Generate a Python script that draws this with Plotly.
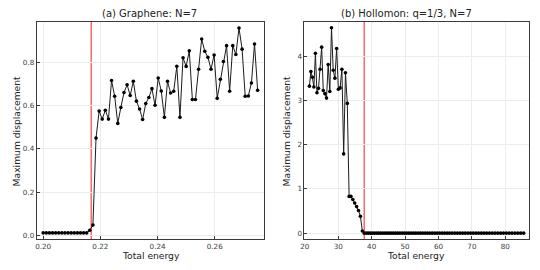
import plotly.graph_objects as go

# ---------------- data ----------------
graphene_energy = [
    0.20000, 0.20109, 0.20217, 0.20326, 0.20435, 0.20543, 0.20652, 0.20761, 0.20870, 0.20978,
    0.21087, 0.21196, 0.21304, 0.21413, 0.21522, 0.21630, 0.21739, 0.21848, 0.21957, 0.22065,
    0.22174, 0.22283, 0.22391, 0.22500, 0.22609, 0.22717, 0.22826, 0.22935, 0.23043, 0.23152,
    0.23261, 0.23370, 0.23478, 0.23587, 0.23696, 0.23804, 0.23913, 0.24022, 0.24130, 0.24239,
    0.24348, 0.24457, 0.24565, 0.24674, 0.24783, 0.24891, 0.25000, 0.25109, 0.25217, 0.25326,
    0.25435, 0.25543, 0.25652, 0.25761, 0.25870, 0.25978, 0.26087, 0.26196, 0.26304, 0.26413,
    0.26522, 0.26630, 0.26739, 0.26848, 0.26957, 0.27065, 0.27174, 0.27283, 0.27391, 0.27500,
]
graphene_disp = [
    0.011, 0.011, 0.011, 0.011, 0.011, 0.011, 0.011, 0.011, 0.011, 0.011,
    0.011, 0.011, 0.011, 0.011, 0.011, 0.023, 0.047, 0.450, 0.575, 0.538,
    0.579, 0.538, 0.717, 0.644, 0.518, 0.592, 0.661, 0.697, 0.647, 0.713,
    0.621, 0.585, 0.536, 0.610, 0.638, 0.679, 0.602, 0.728, 0.668, 0.546,
    0.713, 0.659, 0.667, 0.783, 0.546, 0.822, 0.782, 0.854, 0.629, 0.629,
    0.769, 0.909, 0.852, 0.824, 0.769, 0.835, 0.634, 0.722, 0.805, 0.878,
    0.667, 0.878, 0.837, 0.960, 0.862, 0.644, 0.645, 0.705, 0.886, 0.671,
]
graphene_threshold = 0.2168

hollomon_energy = [
    21.372, 21.815, 22.262, 22.715, 23.171, 23.632, 24.098, 24.568, 25.043, 25.522,
    26.006, 26.495, 26.987, 27.485, 27.986, 28.493, 29.005, 29.520, 30.040, 30.564,
    31.094, 31.628, 32.166, 32.709, 33.256, 33.808, 34.365, 34.926, 35.492, 36.061,
    36.636, 37.216, 37.799, 38.388, 38.980, 39.578, 40.180, 40.786, 41.398, 42.012,
    42.633, 43.258, 43.887, 44.521, 45.158, 45.802, 46.450, 47.101, 47.758, 48.418,
    49.084, 49.755, 50.428, 51.108, 51.791, 52.480, 53.173, 53.870, 54.572, 55.278,
    55.989, 56.705, 57.424, 58.150, 58.878, 59.612, 60.351, 61.093, 61.841, 62.592,
    63.349, 64.110, 64.875, 65.646, 66.419, 67.199, 67.983, 68.771, 69.564, 70.360,
    71.163, 71.970, 72.780, 73.596, 74.415, 75.240, 76.070, 76.902, 77.741, 78.583,
    79.431, 80.283, 81.139, 82.000, 82.865, 83.735, 84.610, 85.488,
]
hollomon_disp = [
    3.32, 3.65, 3.52, 3.30, 4.06, 3.17, 3.27, 3.70, 4.20, 3.22,
    3.15, 3.05, 3.81, 3.20, 4.64, 3.68, 3.50, 4.17, 3.25, 3.28,
    3.70, 1.79, 3.62, 2.93, 0.83, 0.83, 0.76, 0.68, 0.60, 0.51,
    0.38, 0.05, 0.00,
] + [0.0] * 65
hollomon_threshold = 37.78

graphene_xticks = [0.20, 0.22, 0.24, 0.26]
graphene_yticks = [0.0, 0.2, 0.4, 0.6, 0.8]
hollomon_xticks = [20, 30, 40, 50, 60, 70, 80]
hollomon_yticks = [0, 1, 2, 3, 4]

title_a = "(a) Graphene: N=7"
title_b = "(b) Hollomon: q=1/3, N=7"
xlabel = "Total energy"
ylabel = "Maximum displacement"

# ---------------- figure ----------------
FONT = "DejaVu Sans"
LINE_COL = "#1c1c1c"
RED = "#f46a6a"

fig = go.Figure()
fig.add_trace(go.Scatter(
    x=graphene_energy, y=graphene_disp, mode="lines+markers",
    line=dict(color=LINE_COL, width=1), marker=dict(size=3.6, color="black"),
    xaxis="x", yaxis="y", showlegend=False, cliponaxis=True))
fig.add_trace(go.Scatter(
    x=hollomon_energy, y=hollomon_disp, mode="lines+markers",
    line=dict(color=LINE_COL, width=1), marker=dict(size=3.6, color="black"),
    xaxis="x2", yaxis="y2", showlegend=False, cliponaxis=True))

axis_common = dict(
    showline=True, linecolor="#3a3a3a", linewidth=1, mirror=True,
    showgrid=True, gridcolor="#ececec", gridwidth=1, zeroline=False,
    ticks="inside", ticklen=3, tickcolor="#3a3a3a", tickwidth=1,
    tickfont=dict(family=FONT, size=7.2, color="#3c3c3c"),
)

ydom = [0.111, 0.9185]
fig.update_layout(
    width=540, height=270,
    margin=dict(l=0, r=0, t=0, b=0),
    paper_bgcolor="white", plot_bgcolor="white",
    xaxis=dict(domain=[0.0611, 0.4852], anchor="y", range=[0.19775, 0.27725],
               tickvals=graphene_xticks, tickformat=".2f", ticklabelstandoff=0, **axis_common),
    yaxis=dict(domain=ydom, anchor="x", range=[-0.018, 0.988],
               tickvals=graphene_yticks, tickformat=".1f", **axis_common),
    xaxis2=dict(domain=[0.5606, 0.9796], anchor="y2", range=[19.9, 87.1],
                tickvals=hollomon_xticks, tickformat="d", ticklabelstandoff=0, **axis_common),
    yaxis2=dict(domain=ydom, anchor="x2", range=[-0.135, 4.77],
                tickvals=hollomon_yticks, tickformat="d", **axis_common),
    shapes=[
        dict(type="line", xref="x", yref="y domain", x0=graphene_threshold, x1=graphene_threshold,
             y0=0, y1=1, line=dict(color=RED, width=1.5), layer="below"),
        dict(type="line", xref="x2", yref="y2 domain", x0=hollomon_threshold, x1=hollomon_threshold,
             y0=0, y1=1, line=dict(color=RED, width=1.5), layer="below"),
    ],
)

tfont = dict(family=FONT, size=10, color="#222222")
lfont = dict(family=FONT, size=9.2, color="#222222")
ann = [
    dict(text=title_a, x=147 / 540, y=1 - 14 / 270, xref="paper", yref="paper",
         showarrow=False, font=tfont, xanchor="center", yanchor="middle"),
    dict(text=title_b, x=405 / 540, y=1 - 14 / 270, xref="paper", yref="paper",
         showarrow=False, font=tfont, xanchor="center", yanchor="middle"),
    dict(text=xlabel, x=148 / 540, y=1 - 256 / 270, xref="paper", yref="paper",
         showarrow=False, font=lfont, xanchor="center", yanchor="middle"),
    dict(text=xlabel, x=415 / 540, y=1 - 256 / 270, xref="paper", yref="paper",
         showarrow=False, font=lfont, xanchor="center", yanchor="middle"),
    dict(text=ylabel, x=13 / 540, y=1 - 131 / 270, xref="paper", yref="paper", textangle=-90,
         showarrow=False, font=lfont, xanchor="center", yanchor="middle"),
    dict(text=ylabel, x=285 / 540, y=1 - 131 / 270, xref="paper", yref="paper", textangle=-90,
         showarrow=False, font=lfont, xanchor="center", yanchor="middle"),
]
fig.update_layout(annotations=ann)

fig.write_html(
    "out.html",
    config={"displayModeBar": False},
    post_script="document.body.style.margin='0';document.body.style.padding='0';"
                "document.body.style.overflow='hidden';",
)
